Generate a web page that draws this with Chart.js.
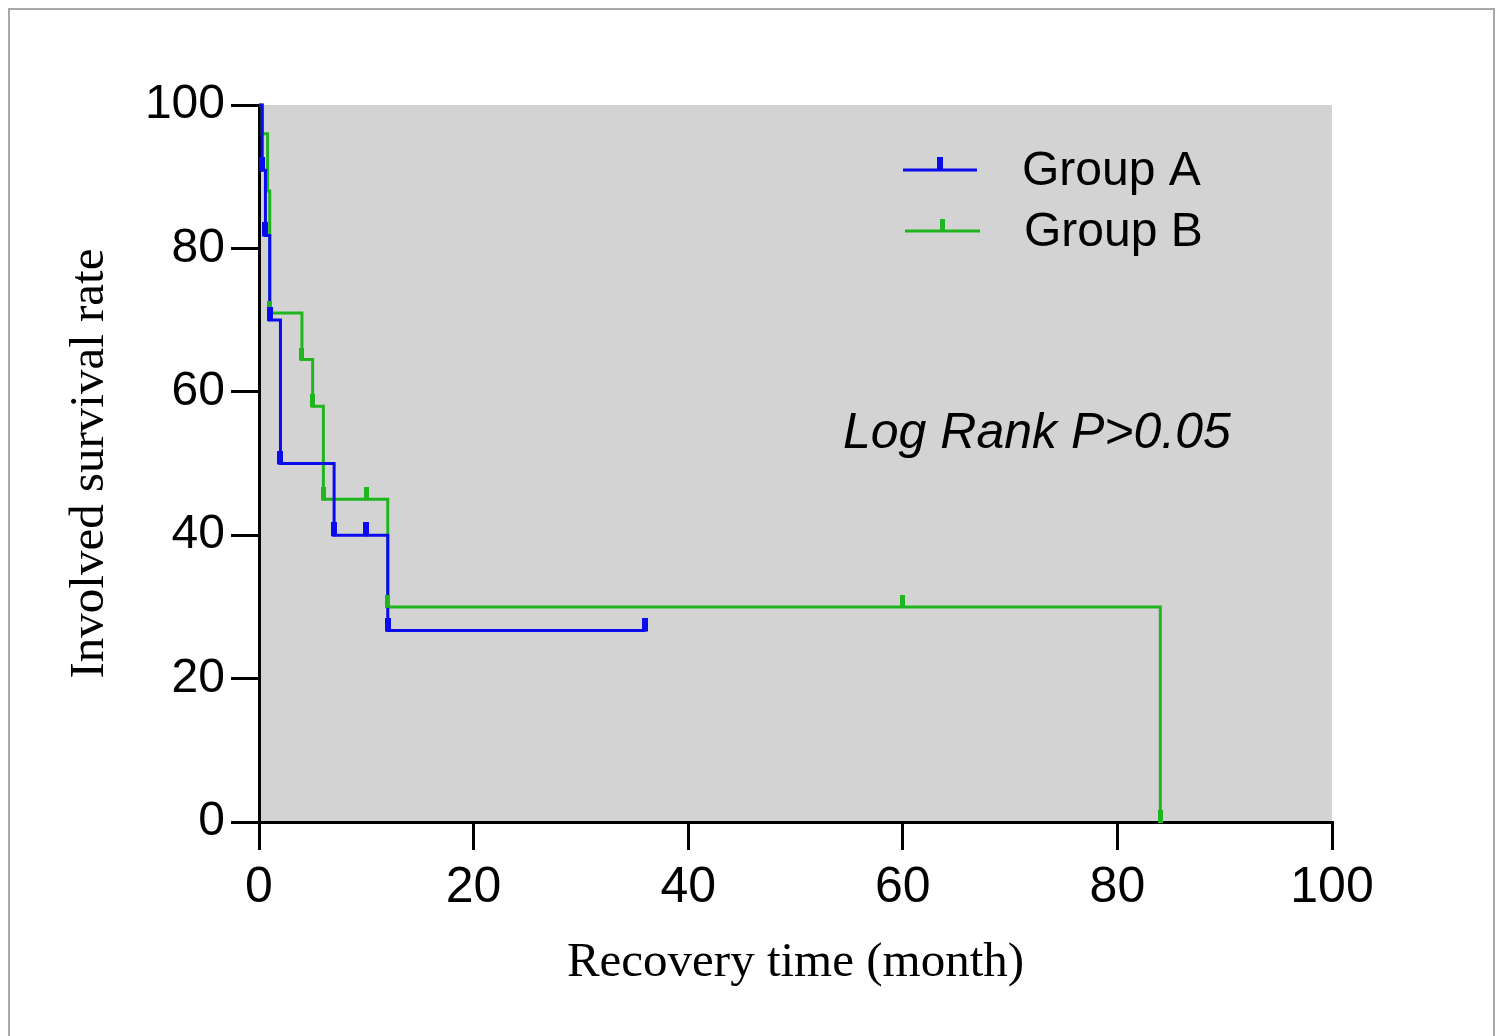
<!DOCTYPE html>
<html>
<head>
<meta charset="utf-8">
<script src="https://cdn.jsdelivr.net/npm/chart.js@4.4.1/dist/chart.umd.min.js"></script>
<style>
  html, body { margin: 0; padding: 0; background: #fff; overflow: hidden; }
  #frame { position: absolute; left: 8px; top: 8px; width: 1483px; height: 1100px; border: 2px solid #a8a8a8; box-sizing: content-box; }
  #c { position: absolute; left: 0; top: 0; }
</style>
</head>
<body>
<div id="frame"></div>
<canvas id="c" width="1499" height="1036"></canvas>
<script>
// ---- data ----
const seriesNames = ['Group A', 'Group B'];
const groupATime = [0, 0.3, 0.6, 1, 2, 7, 12, 36];
const groupASurv = [100, 90.9, 81.8, 70, 50, 40, 26.7, 26.7];
const groupACensorTime = [0.3, 0.6, 1, 2, 7, 10, 12, 36];
const groupACensorSurv = [90.9, 81.8, 70, 50, 40, 40, 26.7, 26.7];

const groupBTime = [0, 0.3, 0.8, 1, 4, 5, 6, 12, 84, 84];
const groupBSurv = [100, 96, 88, 71, 64.5, 58, 45, 30, 30, 0];
const groupBCensorTime = [1, 4, 5, 6, 10, 12, 60, 84];
const groupBCensorSurv = [71, 64.5, 58, 45, 45, 30, 30, 0];

const xTicks = [0, 20, 40, 60, 80, 100];
const yTicks = [0, 20, 40, 60, 80, 100];
const xTitle = 'Recovery time (month)';
const yTitle = 'Involved survival rate';
const annotationText = 'Log Rank P>0.05';

const BLUE = '#0b0bf0';
const GREEN = '#1fb51f';

function pts(xs, ys) { return xs.map((x, i) => ({ x: x, y: ys[i] })); }

function censorMark(color, w, h) {
  const cv = document.createElement('canvas');
  cv.width = w; cv.height = h * 2;
  const g = cv.getContext('2d');
  g.fillStyle = color;
  g.fillRect(0, 0, w, h + 1);
  return cv;
}
const markA = censorMark(BLUE, 6, 13);
const markB = censorMark(GREEN, 5, 12);

const bgPlugin = {
  id: 'bg',
  beforeDraw(chart) {
    const { ctx, chartArea: a } = chart;
    ctx.save();
    ctx.fillStyle = '#d3d3d3';
    ctx.fillRect(a.left, a.top, a.right - a.left, a.bottom - a.top);
    ctx.restore();
  }
};

const overlayPlugin = {
  id: 'overlay',
  afterDraw(chart) {
    const ctx = chart.ctx;
    ctx.save();
    const items = [
      { name: seriesNames[0], color: BLUE, mark: markA, x0: 903, x1: 977, y: 170, tx: 1022 },
      { name: seriesNames[1], color: GREEN, mark: markB, x0: 905, x1: 980, y: 231, tx: 1024 }
    ];
    items.forEach(it => {
      ctx.strokeStyle = it.color;
      ctx.lineWidth = 3;
      ctx.beginPath();
      ctx.moveTo(it.x0, it.y);
      ctx.lineTo(it.x1, it.y);
      ctx.stroke();
      const cx = (it.x0 + it.x1) / 2;
      ctx.drawImage(it.mark, cx - it.mark.width / 2, it.y - it.mark.height / 2);
      ctx.fillStyle = '#000';
      ctx.font = '48px "Liberation Sans", Arial, sans-serif';
      ctx.textBaseline = 'middle';
      ctx.textAlign = 'left';
      ctx.fillText(it.name, it.tx, it.y + 2);
    });
    ctx.font = 'italic 50px "Liberation Sans", Arial, sans-serif';
    ctx.textBaseline = 'alphabetic';
    ctx.fillText(annotationText, 843, 448);
    ctx.restore();
  }
};

new Chart(document.getElementById('c'), {
  type: 'line',
  data: {
    datasets: [
      { label: seriesNames[0], data: pts(groupATime, groupASurv), borderColor: BLUE, borderWidth: 3, stepped: 'before', pointRadius: 0, fill: false, clip: false, order: 2 },
      { label: seriesNames[1], data: pts(groupBTime, groupBSurv), borderColor: GREEN, borderWidth: 3, stepped: 'before', pointRadius: 0, fill: false, clip: false, order: 3 },
      { type: 'scatter', label: seriesNames[0] + ' censored', data: pts(groupACensorTime, groupACensorSurv), pointStyle: markA, pointRadius: 6, showLine: false, clip: false, order: 0 },
      { type: 'scatter', label: seriesNames[1] + ' censored', data: pts(groupBCensorTime, groupBCensorSurv), pointStyle: markB, pointRadius: 6, showLine: false, clip: false, order: 1 }
    ]
  },
  options: {
    responsive: false,
    animation: false,
    events: [],
    layout: { padding: { top: 105, right: 167, left: 0, bottom: 0 } },
    plugins: { legend: { display: false }, tooltip: { enabled: false } },
    scales: {
      x: {
        type: 'linear', min: 0, max: 100,
        afterBuildTicks(s) { s.ticks = xTicks.map(v => ({ value: v })); },
        afterFit(s) { s.height = 214; },
        ticks: { color: '#000', padding: 8, font: { family: '"Liberation Sans", Arial, sans-serif', size: 50 }, maxRotation: 0 },
        grid: { drawOnChartArea: false, drawTicks: true, tickLength: 28, color: '#000', lineWidth: 3 },
        border: { display: true, color: '#000', width: 3 },
        title: { display: true, text: xTitle, color: '#000', font: { family: '"Liberation Serif", "Times New Roman", serif', size: 49 }, padding: { top: 0, bottom: 43 } }
      },
      y: {
        type: 'linear', min: 0, max: 100,
        afterBuildTicks(s) { s.ticks = yTicks.map(v => ({ value: v })); },
        afterFit(s) { s.width = 259; },
        ticks: { color: '#000', padding: 6, font: { family: '"Liberation Sans", Arial, sans-serif', size: 48 } },
        grid: { drawOnChartArea: false, drawTicks: true, tickLength: 28, color: '#000', lineWidth: 3 },
        border: { display: true, color: '#000', width: 3 },
        title: { display: true, text: yTitle, color: '#000', font: { family: '"Liberation Serif", "Times New Roman", serif', size: 49 }, padding: { top: 61, bottom: 0 } }
      }
    }
  },
  plugins: [bgPlugin, overlayPlugin]
});
</script>
</body>
</html>
